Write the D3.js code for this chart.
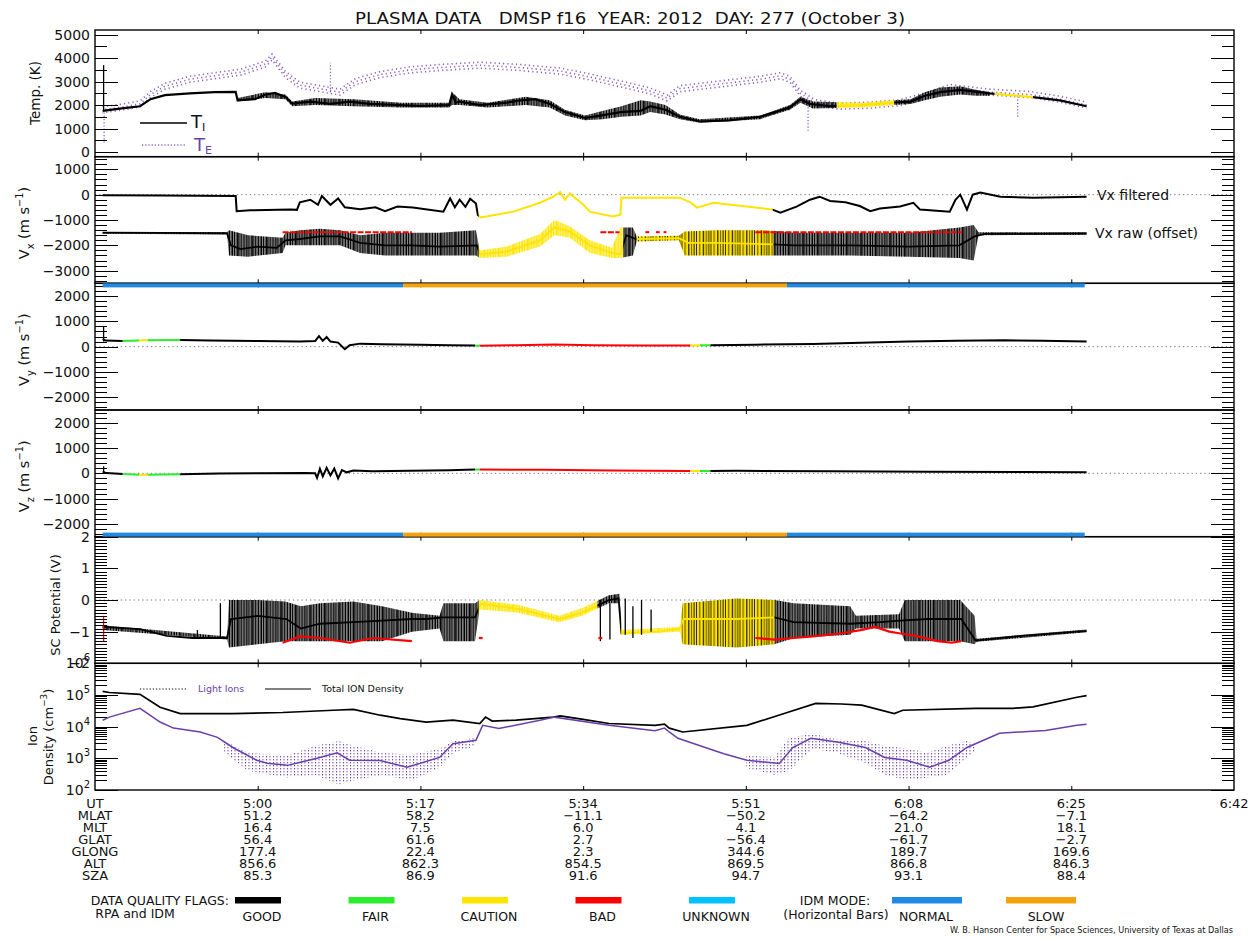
<!DOCTYPE html>
<html><head><meta charset="utf-8">
<script src="https://cdn.jsdelivr.net/npm/d3@7/dist/d3.min.js"></script>
<style>
body{margin:0;background:#fff;}
svg{display:block;}
text{font-family:"DejaVu Sans",sans-serif;fill:#111;}
</style></head><body>
<svg id="chart" width="1257" height="939"></svg>
<script>
// ---------------- DATA (time = UT minutes of day) ----------------
const timeDomain = [283, 402];               // 4:43 .. 6:42
const timeTicks = [300, 317, 334, 351, 368, 385, 402];
const titleText = "PLASMA DATA   DMSP f16  YEAR: 2012  DAY: 277 (October 3)";

// Temperature (K)
const tiData = [[283.8,1750],[285.6,1850],[287.7,1950],[288.8,2250],[290.3,2420],[292.9,2500],[295.5,2550],[297.7,2560],[297.9,2200],[299.7,2250],[300.8,2450],[301.8,2520],[302.9,2350],[303.6,2060],[305.5,2150],[307.6,2050],[309.6,2150],[311.7,2050],[314.9,2000],[317.0,1960],[320.0,2000],[320.3,2450],[320.7,2100],[321.1,2150],[323.2,2000],[326.0,2100],[327.4,2200],[329.0,2250],[330.5,2050],[332.1,1700],[334.2,1450],[335.8,1550],[337.9,1700],[340.0,1750],[341.0,1950],[342.6,1800],[344.1,1500],[346.2,1300],[349.3,1350],[352.5,1500],[355.6,1900],[356.7,2250],[357.7,2050],[359.8,1950],[363.0,2000],[366.1,2100],[368.2,2150],[369.7,2400],[371.3,2550],[373.4,2650],[376.5,2500],[380.7,2350],[383.8,2200],[386.6,1950]];
const tiBand = [[297.9,2150,2300],[300.8,2300,2550],[302.9,2250,2450],[303.6,1950,2150],[306,2000,2300],[310,1950,2250],[315,1900,2100],[320,1900,2100],[320.3,2000,2550],[321.1,2000,2250],[324,1900,2100],[328,2000,2350],[330.5,1900,2200],[332.1,1550,1800],[334.2,1350,1550],[336,1400,1750],[338,1500,1950],[340,1550,2200],[341,1700,2150],[342.6,1600,2000],[344.1,1400,1600],[346.2,1250,1400],[352.5,1400,1550],[355.6,1800,2000],[356.7,2100,2350],[358,1850,2150],[363,1900,2100],[368.2,2050,2250],[369.7,2200,2550],[371.3,2350,2750],[373.4,2450,2800],[375,2400,2650],[376.5,2400,2550]];
const tiSpike = [283.9, 1750, 3700];
const tiFlags = [[283,360.5,'good'],[360.5,366.5,'caution'],[366.5,377,'good'],[377,381,'caution'],[381,402,'good']];
const teData = [[283.8,1800],[285.6,1900],[287.7,2050],[288.8,2450],[290.3,2800],[292.9,3100],[295.5,3250],[298.2,3400],[300.8,3750],[301.5,4050],[302.9,3300],[304.4,2850],[306.5,2700],[308.6,2550],[310.2,3000],[312.8,3300],[315.9,3500],[319.0,3600],[323.2,3700],[327.4,3600],[331.6,3450],[334.7,3200],[337.9,2900],[341.0,2600],[342.8,2300],[344.1,2700],[348.3,2900],[352.5,3100],[354.6,3250],[355.6,3100],[356.7,2500],[358.2,2100],[360.8,1950],[364.0,2000],[367.1,2100],[370.2,2450],[372.3,2750],[376.5,2550],[380.7,2450],[383.8,2250],[386.6,2000]];
const teSpikes = [[283.95,400,1800],[307.6,2550,3800],[357.5,900,2200],[379.4,1500,2400]];

// Vx (m/s)
const vxFiltered = [[283.8,-20],[290,-30],[297.7,-50],[297.8,-650],[299.2,-620],[303.4,-590],[304.1,-600],[304.4,-300],[305.5,-200],[306.3,-400],[306.7,-50],[307.6,-400],[308.4,-150],[309.1,-500],[310.7,-580],[312.3,-500],[313.3,-650],[314.6,-470],[316.2,-510],[319.4,-670],[320.1,-150],[320.6,-500],[321.1,-200],[321.7,-480],[322.2,-160],[322.8,-350],[323.0,-800],[323.3,-900],[326.7,-670],[329.5,-320],[330.9,-80],[331.6,100],[332.1,-200],[332.6,50],[334.0,-390],[334.7,-670],[337.1,-860],[337.9,-790],[338.0,-120],[344.1,-120],[345.2,-300],[345.9,-510],[347.6,-320],[351.1,-470],[353.8,-590],[354.6,-710],[356.3,-470],[357.7,-200],[358.7,-80],[359.8,-250],[361.4,-300],[362.9,-450],[364.0,-650],[365.0,-550],[367.1,-470],[368.5,-320],[369.2,-590],[372.3,-670],[372.9,-200],[373.4,0],[374.1,-590],[374.7,0],[375.5,80],[377.6,-80],[381.0,-120],[386.6,-80]];
const vxFiltFlags = [[283,323.1,'good'],[323.1,353.8,'caution'],[353.8,402,'good']];
const vxRaw = [[283.8,-1500],[290,-1510],[296.8,-1530],[297.2,-2000],[298.2,-2150],[300,-2050],[302,-2100],[302.9,-1800],[304.4,-1750],[306.5,-1650],[308.6,-1650],[310.7,-1900],[313.3,-2000],[316,-2000],[319,-2050],[322.9,-2000],[323.2,-2350],[326,-2250],[329.5,-1800],[331,-1300],[332.6,-1450],[334.7,-2000],[337,-2300],[337.9,-2350],[338.5,-1600],[339.5,-1750],[344,-1720],[345,-1900],[348,-1900],[353,-1950],[356,-2000],[362,-2000],[368,-2050],[373.3,-2000],[374.9,-1650],[376,-1550],[386.6,-1530]];
const vxRawBand = [[283.8,-1540,-1470],[296.8,-1570,-1470],[297.0,-2400,-1400],[299,-2450,-1600],[302.6,-2300,-1700],[302.9,-2000,-1500],[304.4,-2000,-1400],[306.5,-2000,-1350],[308.6,-2000,-1400],[310.7,-2300,-1600],[313.3,-2400,-1500],[316,-2400,-1500],[319,-2400,-1500],[322.8,-2400,-1400],[323.2,-2500,-2200],[326,-2450,-2050],[329.5,-2050,-1550],[331,-1600,-1000],[332.6,-1700,-1250],[334.7,-2300,-1800],[337,-2500,-2100],[337.9,-2500,-1300],[339.2,-2400,-1300],[339.6,-1850,-1650],[344,-1800,-1620],[344.6,-2400,-1450],[348,-2400,-1400],[353,-2400,-1400],[356,-2400,-1500],[362,-2400,-1500],[368,-2450,-1500],[373.3,-2500,-1300],[374.8,-2600,-1200],[375.3,-1600,-1480],[386.6,-1590,-1480]];
const vxRawFlags = [[283,323.1,'good'],[323.1,338.2,'caution'],[338.2,339.6,'good'],[339.6,353.9,'mixed'],[353.9,402,'good']];
const vxRawBad = [[302.6,316.1],[335.8,337.8],[340.5,340.9],[341.6,342.0],[342.4,342.7],[352.0,373.6]];
const vxBadLevel = -1480;

// Vy, Vz (m/s)
const vyData = [[283.8,300],[284.1,240],[285.9,220],[288,250],[291.9,260],[295,240],[300,220],[304.4,200],[306.0,220],[306.4,420],[306.8,230],[307.2,380],[307.6,200],[308.4,160],[309.1,-100],[309.6,60],[310.7,120],[313,100],[317,80],[320,60],[323,40],[327,60],[331,90],[335,60],[340,50],[345.2,50],[347.3,60],[352,80],[358,110],[362,140],[368,200],[373,230],[378,250],[382,230],[386.6,200]];
const vySpike = [283.9, 200, 780];
const vzData = [[283.8,60],[284.2,10],[285.9,-30],[288,-60],[291.9,-40],[296,-10],[300,0],[305,10],[306.0,0],[306.2,-180],[306.5,180],[306.8,-120],[307.2,220],[307.6,-80],[308.0,190],[308.4,-200],[308.8,130],[309.3,40],[310,110],[312,80],[316,100],[320,120],[323,150],[330,140],[337,110],[345,90],[350,100],[360,80],[370,60],[380,50],[386.6,40]];
const vzSpike = [283.9, 0, 280];
const vyzFlags = [[283,285.9,'good'],[285.9,287.6,'fair'],[287.6,288.5,'caution'],[288.5,291.9,'fair'],[291.9,322.7,'good'],[322.7,323.2,'fair'],[323.2,345.2,'bad'],[345.2,346.2,'caution'],[346.2,347.3,'fair'],[347.3,402,'good']];

// IDM mode bars
const idmSegments = [[283.8,315.2,'normal'],[315.2,355.3,'slow'],[355.3,386.4,'normal']];

// SC potential (V)
const scLine = [[283.8,-0.85],[287.7,-0.92],[290.5,-1.13],[293.2,-1.2],[296.8,-1.2],[297.2,-0.6],[300,-0.5],[303,-0.6],[304.5,-0.9],[306.5,-0.75],[310,-0.7],[313,-0.65],[316.1,-0.6],[317.6,-0.6],[319.4,-0.55],[322.7,-0.55],[323.3,-0.12],[327.2,-0.28],[331.5,-0.6],[333.9,-0.4],[336.7,0.0],[337.7,0.05],[338.0,-1.05],[342,-1.0],[344.1,-0.9],[344.5,-0.6],[350,-0.6],[354,-0.55],[356,-0.7],[361.9,-0.75],[365,-0.7],[367.1,-0.65],[370,-0.6],[373.5,-0.6],[375,-1.28],[379.9,-1.13],[385.6,-1.0],[386.6,-0.98]];
const scBand = [[283.8,-0.95,-0.8],[296.8,-1.25,-1.15],[297.0,-1.5,0.0],[300,-1.4,0.0],[302.9,-1.3,-0.05],[304.5,-1.3,-0.2],[306.5,-1.3,-0.1],[310,-1.3,-0.05],[313,-1.3,-0.2],[316.1,-1.0,-0.4],[319.0,-0.9,-0.5],[319.4,-1.3,-0.1],[322.7,-1.3,-0.1],[323.2,-0.3,0.0],[327.2,-0.4,-0.15],[331.5,-0.7,-0.5],[333.9,-0.5,-0.25],[336.7,-0.1,0.15],[337.8,-0.1,0.2],[338,-1.1,-0.95],[344.1,-1.0,-0.85],[344.4,-1.4,-0.1],[350,-1.5,0.05],[354,-1.4,0.0],[356,-1.2,-0.1],[361.9,-1.1,-0.2],[362.5,-0.9,-0.5],[367,-0.9,-0.45],[367.6,-1.3,0],[373.4,-1.3,0.0],[374.9,-1.4,-0.5],[375.1,-1.32,-1.22],[386.6,-1.02,-0.93]];
const scSpikes = [[283.9,-1.3,-0.5,'bad'],[293.7,-1.2,-0.95,'good'],[296.1,-1.2,-0.1,'good'],[335.8,-1.3,0.0,'good'],[336.8,-1.25,-0.1,'good'],[338.4,-1.1,0.05,'good'],[339.2,-1.2,-0.2,'good'],[340.1,-1.1,0.0,'good'],[341.1,-1.0,-0.3,'good']];
const scRedEdges = [
  [[302.6,-1.35],[304.4,-1.15],[306.5,-1.2],[309.6,-1.35],[312,-1.2],[316.1,-1.3]],
  [[323.1,-1.2],[323.5,-1.2]],
  [[335.6,-1.2],[336.0,-1.2]],
  [[352,-1.2],[354,-1.25],[356,-1.2],[358,-1.15],[361,-1.05],[363,-0.95],[364.5,-0.85],[366,-1.0],[367,-1.05],[369,-1.15],[371,-1.3],[372.5,-1.35],[373.5,-1.3]]
];
const scFlags = [[283,323.1,'good'],[323.1,335.5,'caution'],[335.5,338,'good'],[338,344.3,'caution'],[344.3,354,'mixed'],[354,402,'good']];

// Ion density (cm^-3)
const totalDensity = [[283.8,1.3e5],[284.5,1.2e5],[287.7,1.05e5],[289.8,4.1e4],[291.9,2.6e4],[297.4,2.6e4],[302.6,2.8e4],[307.9,3.3e4],[310.0,3.5e4],[312.8,2.3e4],[314.9,1.8e4],[317.6,1.4e4],[320.4,1.6e4],[323.2,1.26e4],[323.8,2.0e4],[324.5,1.5e4],[327,1.6e4],[330.9,2.0e4],[331.6,2.2e4],[334,1.7e4],[336.7,1.26e4],[341.5,1.1e4],[342.5,1.2e4],[343,9e3],[344.4,6.8e3],[351.1,1.1e4],[355,2.6e4],[358.3,5.4e4],[361,5.2e4],[363.1,4.8e4],[366.5,2.6e4],[367.4,3.3e4],[375.0,3.8e4],[378.9,3.8e4],[381,4.2e4],[385.6,8.5e4],[386.6,9.5e4]];
const lightIons = [[283.8,1.6e4],[284.5,2.0e4],[287.7,3.8e4],[289.8,1.4e4],[291.2,9e3],[294,6.8e3],[295.8,4.6e3],[297.4,2.2e3],[299.9,870],[301,700],[303.1,600],[306.2,1000],[308.3,1500],[309.6,870],[312.8,850],[315.6,520],[319.0,1070],[320.4,2900],[322.8,3700],[323.5,1.1e4],[325.2,8.7e3],[329.5,1.6e4],[331,2.0e4],[336.7,1.1e4],[341.5,7.5e3],[342.5,9e3],[343,6.8e3],[343.9,4.3e3],[348.7,1400],[351.1,870],[354.5,690],[355.9,2200],[357.8,4300],[360.7,3200],[363.5,2200],[365.5,1070],[367.8,870],[370.2,520],[372.2,870],[374.1,2200],[377.5,6200],[382.3,7600],[385.6,1.1e4],[386.6,1.2e4]];
const lightBands = [
  [[296.5,1500,3500],[299,400,1500],[303,250,1200],[306,300,2500],[308.5,150,3500],[310,200,2500],[313,300,1500],[316,200,1300],[319,500,2000],[320.5,1500,3500],[322.8,2500,4500]],
  [[351,500,1200],[354,300,1100],[355.5,400,4500],[358,2000,6000],[360.5,1500,4000],[363.5,700,3500],[365.5,300,2500],[368,200,2000],[370,250,1500],[372,300,2500],[374,1000,3500],[375,1800,3000]]
];

// Orbit table
const rowNames = ["UT","MLAT","MLT","GLAT","GLONG","ALT","SZA"];
const mlat  = [51.2, 58.2, -11.1, -50.2, -64.2, -7.1];
const mlt   = [16.4, 7.5, 6.0, 4.1, 21.0, 18.1];
const glat  = [56.4, 61.6, 2.7, -56.4, -61.7, -2.7];
const glong = [177.4, 22.4, 2.3, 344.6, 189.7, 169.6];
const alt   = [856.6, 862.3, 854.5, 869.5, 866.8, 846.3];
const sza   = [85.3, 86.9, 91.6, 94.7, 93.1, 88.4];

// Legends
const flagKeys = ["good","fair","caution","bad","unknown"];
const flagNames = ["GOOD","FAIR","CAUTION","BAD","UNKNOWN"];
const idmKeys = ["normal","slow"];
const idmNames = ["NORMAL","SLOW"];

// ---------------- STYLE ----------------
const flagColor = {good:'#000000', fair:'#2ced2c', caution:'#ffe400', bad:'#ff0000', unknown:'#00c2ff', mixed:'#ffe400'};
const idmColor = {normal:'#1f8ae3', slow:'#f5a20f'};
const purple = '#6b3fa8';
const tePurple = '#8a62c4';

// ---------------- SETUP ----------------
const W=1257, H=939, L=95, R=1234, T=30, B=790, PH=(B-T)/6;
const svg = d3.select('#chart');
const defs = svg.append('defs');
const x = d3.scaleLinear().domain(timeDomain).range([L,R]);

const stripeSet = [[0,1.1],[1.6,1.5],[3.5,0.9],[4.8,1.8],[7.0,1.0],[8.4,1.4],[10.2,0.9],[11.4,1.6],[13.5,0.7]];
function pattern(id, color, bg, stripes){
  const p = defs.append('pattern').attr('id',id).attr('patternUnits','userSpaceOnUse').attr('width',14.5).attr('height',4);
  if(bg) p.append('rect').attr('width',14.5).attr('height',4).attr('fill',bg);
  stripes.forEach(([sx,sw])=>p.append('rect').attr('x',sx).attr('width',sw).attr('height',4).attr('fill',color));
}
['good','fair','caution','bad'].forEach(k=>pattern('pat-'+k, flagColor[k], null, stripeSet));
pattern('pat-mixed', '#000', flagColor.caution, [[0,0.8],[3.4,0.7],[6.8,1.1],[9.8,0.6],[12.2,0.9]]);
{
  const p = defs.append('pattern').attr('id','pat-light').attr('patternUnits','userSpaceOnUse').attr('width',3.5).attr('height',3);
  p.append('rect').attr('x',0).attr('width',1).attr('height',1.4).attr('fill',purple);
}

let clipN = 0;
function flagged(parent, flags, drawFn){
  flags.forEach(f=>{
    const id = 'clip'+(clipN++);
    defs.append('clipPath').attr('id',id).append('rect')
      .attr('x',x(f[0])).attr('y',0).attr('width',Math.max(0,x(f[1])-x(f[0]))).attr('height',H);
    drawFn(parent.append('g').attr('clip-path',`url(#${id})`), f[2]);
  });
}
const lineGen = y => d3.line().x(d=>x(d[0])).y(d=>y(d[1]));
const areaGen = y => d3.area().x(d=>x(d[0])).y0(d=>y(d[1])).y1(d=>y(d[2]));

const rng = (a,b,s)=>d3.range(a,b+s/2,s);
const panels = [
  {y:d3.scaleLinear().domain([-200,5200]), major:rng(0,5000,1000), minor:rng(500,4500,1000)},
  {y:d3.scaleLinear().domain([-3500,1500]), major:rng(-3000,1000,1000), minor:rng(-3400,1400,200).filter(v=>v%1000!==0)},
  {y:d3.scaleLinear().domain([-2500,2500]), major:rng(-2000,2000,1000), minor:rng(-2400,2400,200).filter(v=>v%1000!==0)},
  {y:d3.scaleLinear().domain([-2500,2500]), major:rng(-2000,2000,1000), minor:rng(-2400,2400,200).filter(v=>v%1000!==0)},
  {y:d3.scaleLinear().domain([-2,2]), major:[-2,-1,0,1,2], minor:d3.range(-19,20).filter(v=>v%10!==0).map(v=>v/10)},
  {y:d3.scaleLog().domain([1e2,1e6]), major:[1e2,1e3,1e4,1e5,1e6], minor:d3.range(2,6).flatMap(e=>d3.range(2,10).map(m=>m*Math.pow(10,e))), log:true}
];
panels.forEach((p,i)=>{ p.top=T+i*PH; p.bot=p.top+PH; p.y.range([p.bot,p.top]); });
const [pT,pX,pY,pZ,pS,pD] = panels;

const gData = svg.append('g');

function zeroLine(p, v){
  gData.append('line').attr('x1',L).attr('x2',R).attr('y1',p.y(v)).attr('y2',p.y(v))
    .attr('stroke','#777').attr('stroke-width',1).attr('stroke-dasharray','1.3 3');
}
function spike(p, s, color, dash){
  const l = gData.append('line').attr('x1',x(s[0])).attr('x2',x(s[0])).attr('y1',p.y(s[1])).attr('y2',p.y(s[2]))
    .attr('stroke',color).attr('stroke-width',1.3);
  if(dash) l.attr('stroke-dasharray',dash);
}

// ---- Temperature ----
[[-3,0],[0,1.7],[3,0.8]].forEach(([dy,off])=>{
  gData.append('path').datum(teData).attr('d',lineGen(pT.y)).attr('fill','none')
    .attr('transform',`translate(0,${dy})`)
    .attr('stroke',tePurple).attr('stroke-width',1.6).attr('stroke-dasharray','1.2 3.1').attr('stroke-dashoffset',off);
});
teSpikes.forEach(s=>spike(pT, s, tePurple, '1.2 2'));
flagged(gData, tiFlags, (g,f)=>{
  g.append('path').datum(tiBand).attr('d',areaGen(pT.y)).attr('fill',`url(#pat-${f})`);
  g.append('path').datum(tiData).attr('d',lineGen(pT.y)).attr('fill','none').attr('stroke',flagColor[f]).attr('stroke-width',2.2);
});
spike(pT, tiSpike, '#000');
gData.append('line').attr('x1',140).attr('x2',187).attr('y1',123).attr('y2',123).attr('stroke','#000').attr('stroke-width',1.3);
gData.append('line').attr('x1',142).attr('x2',186).attr('y1',145).attr('y2',145).attr('stroke',tePurple).attr('stroke-width',1.3).attr('stroke-dasharray','1.2 2');
{
  const t1 = gData.append('text').attr('x',191).attr('y',128).attr('font-size',18);
  t1.append('tspan').text('T'); t1.append('tspan').attr('font-size',11).attr('dy',3).text('I');
  const t2 = gData.append('text').attr('x',194).attr('y',151).attr('font-size',18).style('fill',purple);
  t2.append('tspan').text('T'); t2.append('tspan').attr('font-size',11).attr('dy',3).text('E');
}

// ---- Vx ----
zeroLine(pX, 0);
flagged(gData, vxFiltFlags, (g,f)=>{
  g.append('path').datum(vxFiltered).attr('d',lineGen(pX.y)).attr('fill','none').attr('stroke',flagColor[f]).attr('stroke-width',2);
});
flagged(gData, vxRawFlags, (g,f)=>{
  g.append('path').datum(vxRawBand).attr('d',areaGen(pX.y)).attr('fill',`url(#pat-${f})`);
  g.append('path').datum(vxRaw).attr('d',lineGen(pX.y)).attr('fill','none').attr('stroke',flagColor[f]).attr('stroke-width',1.8);
});
vxRawBad.forEach(s=>gData.append('line').attr('x1',x(s[0])).attr('x2',x(s[1])).attr('y1',pX.y(vxBadLevel)).attr('y2',pX.y(vxBadLevel))
  .attr('stroke',flagColor.bad).attr('stroke-width',2).attr('stroke-dasharray','6 1.5'));
gData.append('text').attr('x',1097).attr('y',pX.y(0)+5).attr('font-size',14).text('Vx filtered');
gData.append('text').attr('x',1095).attr('y',pX.y(vxBadLevel)+6).attr('font-size',14).text('Vx raw (offset)');

// ---- Vy / Vz ----
[[pY,vyData,vySpike],[pZ,vzData,vzSpike]].forEach(([p,data,sp])=>{
  zeroLine(p, 0);
  spike(p, sp, '#000');
  flagged(gData, vyzFlags, (g,f)=>{
    g.append('path').datum(data).attr('d',lineGen(p.y)).attr('fill','none').attr('stroke',flagColor[f]).attr('stroke-width',2);
  });
});

// ---- SC potential ----
zeroLine(pS, 0);
flagged(gData, scFlags, (g,f)=>{
  g.append('path').datum(scBand).attr('d',areaGen(pS.y)).attr('fill',`url(#pat-${f})`);
  g.append('path').datum(scLine).attr('d',lineGen(pS.y)).attr('fill','none').attr('stroke',flagColor[f]).attr('stroke-width',1.8);
});
scSpikes.forEach(s=>spike(pS, s, flagColor[s[3]]));
scRedEdges.forEach(seg=>gData.append('path').datum(seg).attr('d',lineGen(pS.y)).attr('fill','none').attr('stroke',flagColor.bad).attr('stroke-width',2.2));

// ---- Ion density ----
lightBands.forEach(b=>gData.append('path').datum(b).attr('d',areaGen(pD.y)).attr('fill','url(#pat-light)'));
gData.append('path').datum(totalDensity).attr('d',lineGen(pD.y)).attr('fill','none').attr('stroke','#000').attr('stroke-width',1.7);
gData.append('path').datum(lightIons).attr('d',lineGen(pD.y)).attr('fill','none').attr('stroke',purple).attr('stroke-width',1.5);
gData.append('line').attr('x1',140).attr('x2',187).attr('y1',689).attr('y2',689).attr('stroke','#000').attr('stroke-width',1).attr('stroke-dasharray','1.2 2');
gData.append('text').attr('x',198).attr('y',692).attr('font-size',9.5).style('fill',purple).text('Light Ions');
gData.append('line').attr('x1',265).attr('x2',311).attr('y1',689).attr('y2',689).attr('stroke','#000').attr('stroke-width',1.2);
gData.append('text').attr('x',322).attr('y',692).attr('font-size',9.5).text('Total ION Density');

// ---- frames & axes ----
panels.forEach((p,i)=>{
  svg.append('rect').attr('x',L).attr('y',p.top).attr('width',R-L).attr('height',PH)
    .attr('fill','none').attr('stroke','#000').attr('stroke-width',1.4);
  const fmt = p.log ? ()=>'' : d3.format('');
  const mk = (axisFn, xpos, vals, size, labels) => {
    const g = svg.append('g').attr('transform',`translate(${xpos},0)`)
      .call(axisFn(p.y).tickValues(vals).tickSizeInner(-size).tickSizeOuter(0).tickPadding(5).tickFormat(labels ? fmt : ()=>''));
    g.select('.domain').remove();
    g.selectAll('.tick line').attr('stroke','#000').attr('shape-rendering','crispEdges');
    g.selectAll('.tick text').attr('font-size',14).attr('font-family','DejaVu Sans').attr('fill','#111');
    return g;
  };
  mk(d3.axisLeft, L, p.minor, 12, false);
  mk(d3.axisRight, R, p.minor, 12, false);
  mk(d3.axisRight, R, p.major, 23, false);
  const gm = mk(d3.axisLeft, L, p.major, 23, true);
  if(p.log){
    gm.selectAll('.tick text').each(function(d){
      const t = d3.select(this);
      t.text('10');
      t.append('tspan').attr('font-size',10).attr('dy','-0.7em').text(Math.round(Math.log10(d)));
    });
  }
  [[d3.axisTop,p.top],[d3.axisBottom,p.bot]].forEach(([fn,yy])=>{
    const g = svg.append('g').attr('transform',`translate(0,${yy})`)
      .call(fn(x).tickValues(timeTicks.slice(0,6)).tickSizeInner(-4).tickSizeOuter(0).tickFormat(()=>''));
    g.select('.domain').remove();
    g.selectAll('.tick line').attr('stroke','#000');
  });
});

// ---- IDM mode bars ----
idmSegments.forEach(s=>{
  svg.append('rect').attr('x',x(s[0])).attr('width',x(s[1])-x(s[0]))
    .attr('y',pY.y(2500)).attr('height',pY.y(2340)-pY.y(2500)).attr('fill',idmColor[s[2]]);
  svg.append('rect').attr('x',x(s[0])).attr('width',x(s[1])-x(s[0]))
    .attr('y',pZ.y(-2340)).attr('height',pZ.y(-2500)-pZ.y(-2340)).attr('fill',idmColor[s[2]]);
});

// ---- y axis titles ----
function vtitle(cx, cy, size, parts){
  const t = svg.append('text').attr('transform',`translate(${cx},${cy}) rotate(-90)`)
    .attr('text-anchor','middle').attr('font-size',size).attr('dy','0.36em');
  parts.forEach(([s,kind])=>{
    const ts = t.append('tspan').text(s);
    if(kind==='sub') ts.attr('font-size',size*0.68).attr('dy',size*0.3);
    if(kind==='subend') ts.attr('dy',-size*0.3);
    if(kind==='sup') ts.attr('font-size',size*0.68).attr('dy',-size*0.45);
    if(kind==='supend') ts.attr('dy',size*0.45);
  });
}
vtitle(35, 93, 13.5, [['Temp. (K)']]);
[['x',pX],['y',pY],['z',pZ]].forEach(([c,p])=>{
  vtitle(24, (p.top+p.bot)/2+3, 14.5, [['V'],[c,'sub'],[' (m s','subend'],['\u22121','sup'],[')','supend']]);
});
vtitle(55, 605, 13, [['SC Potential (V)']]);
vtitle(32, 736, 13, [['Ion']]);
vtitle(48, 737, 13, [['Density (cm'],['\u22123','sup'],[')','supend']]);

// ---- title ----
svg.append('text').attr('x',355).attr('y',24).attr('font-size',15.5).style('white-space','pre')
  .attr('textLength',550).attr('lengthAdjust','spacingAndGlyphs').text(titleText);

// ---- table ----
const utFmt = m => `${Math.floor(m/60)}:${d3.format('02d')(m%60)}`;
const f1 = d3.format('.1f');
const rows = [timeTicks.map(utFmt), mlat.map(f1), mlt.map(f1), glat.map(f1), glong.map(f1), alt.map(f1), sza.map(f1)];
const gTab = svg.append('g').attr('font-size',13).attr('text-anchor','middle');
rowNames.forEach((name,i)=>{
  const yy = 808 + i*12;
  gTab.append('text').attr('x',x(timeDomain[0])).attr('y',yy).text(name);
  rows[i].forEach((v,j)=>gTab.append('text').attr('x',x(timeTicks[j])).attr('y',yy).text(v));
});

// ---- legend ----
const gLeg = svg.append('g').attr('font-size',12.5);
gLeg.append('text').attr('x',229).attr('y',905).attr('text-anchor','end').text('DATA QUALITY FLAGS:');
gLeg.append('text').attr('x',135).attr('y',918).attr('text-anchor','middle').text('RPA and IDM');
flagKeys.forEach((k,i)=>{
  const x0 = 235 + i*113.5;
  gLeg.append('rect').attr('x',x0).attr('y',897).attr('width',46).attr('height',6.5).attr('fill',flagColor[k]);
  gLeg.append('text').attr('x',x0+27).attr('y',921).attr('text-anchor','middle').text(flagNames[i]);
});
gLeg.append('text').attr('x',835).attr('y',905).attr('text-anchor','middle').text('IDM MODE:');
gLeg.append('text').attr('x',836).attr('y',919).attr('text-anchor','middle').text('(Horizontal Bars)');
idmKeys.forEach((k,i)=>{
  const x0 = 892 + i*114;
  gLeg.append('rect').attr('x',x0).attr('y',897).attr('width',70).attr('height',6.5).attr('fill',idmColor[k]);
  gLeg.append('text').attr('x',x0+34+i*6).attr('y',921).attr('text-anchor','middle').text(idmNames[i]);
});
svg.append('text').attr('x',950).attr('y',933).attr('font-size',8).attr('textLength',283).attr('lengthAdjust','spacingAndGlyphs')
  .text('W. B. Hanson Center for Space Sciences, University of Texas at Dallas');
</script></body></html>
